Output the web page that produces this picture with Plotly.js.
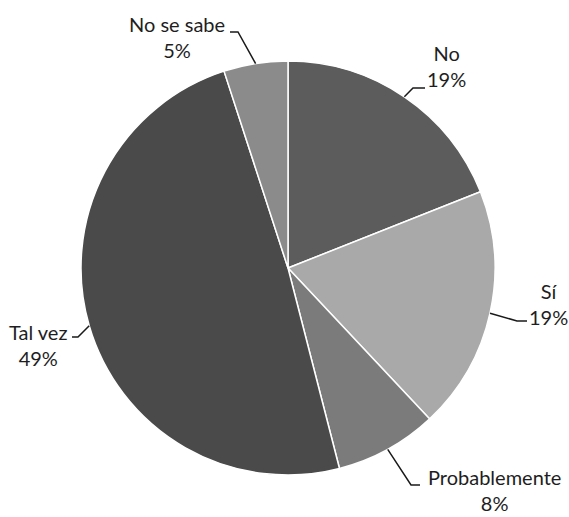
<!DOCTYPE html>
<html>
<head>
<meta charset="utf-8">
<script src="https://cdn.plot.ly/plotly-3.0.1.min.js"></script>
<style>html,body{margin:0;padding:0;background:#fff;}#chart{width:569px;height:517px;}</style>
</head>
<body>
<div id="chart"></div>
<script>
// ---- data ----
const categories = ['No', 'Sí', 'Probablemente', 'Tal vez', 'No se sabe'];
const values = [19, 19, 8, 49, 5];
const sliceColors = ['#5c5c5c', '#a9a9a9', '#7b7b7b', '#4a4a4a', '#8b8b8b'];

// ---- layout geometry (pixels) ----
const W = 569, H = 517;
const CX = 288, CY = 268, R = 207;
// per-label leader elbow / end point and text block centre (pixels)
const labelElbow = [[413, 88], [517, 321], [411, 485], [78, 337], [238, 32]];
const labelEnd = [[425, 88], [527, 321], [420, 485], [72, 337], [230, 32]];
const labelCenter = [[446, 66], [548, 304], [494, 490], [38, 345], [177, 37]];

const px = x => x / W;
const py = y => 1 - y / H;

const total = values.reduce((a, b) => a + b, 0);
const annotations = [];
const shapes = [];
let cum = 0;
values.forEach((v, i) => {
  const mid = (cum + v / 2) / total * 2 * Math.PI;
  cum += v;
  const sx = CX + R * Math.sin(mid), sy = CY - R * Math.cos(mid);
  const e = labelElbow[i], f = labelEnd[i];
  shapes.push({
    type: 'path', xref: 'paper', yref: 'paper',
    path: `M ${px(sx)} ${py(sy)} L ${px(e[0])} ${py(e[1])} L ${px(f[0])} ${py(f[1])}`,
    line: {color: '#1a1a1a', width: 1.5}
  });
  const c = labelCenter[i];
  annotations.push({
    xref: 'paper', yref: 'paper', x: px(c[0]), y: py(c[1]),
    xanchor: 'center', yanchor: 'middle', showarrow: false, align: 'center',
    text: categories[i] + '<br>' + Math.round(v / total * 100) + '%',
    font: {family: 'Lato, sans-serif', size: 20, color: '#1e1e1e'}
  });
});

const trace = {
  type: 'pie',
  labels: categories,
  values: values,
  sort: false,
  direction: 'clockwise',
  rotation: 0,
  textinfo: 'none',
  textposition: 'none',
  hoverinfo: 'label+percent',
  marker: {colors: sliceColors, line: {color: '#ffffff', width: 1.5}},
  domain: {x: [px(CX - R), px(CX + R)], y: [py(CY + R), py(CY - R)]},
  showlegend: false
};

Plotly.newPlot('chart', [trace], {
  width: W, height: H,
  margin: {l: 0, r: 0, t: 0, b: 0},
  paper_bgcolor: '#ffffff',
  showlegend: false,
  annotations: annotations,
  shapes: shapes
}, {displayModeBar: false, staticPlot: true});
</script>
</body>
</html>
